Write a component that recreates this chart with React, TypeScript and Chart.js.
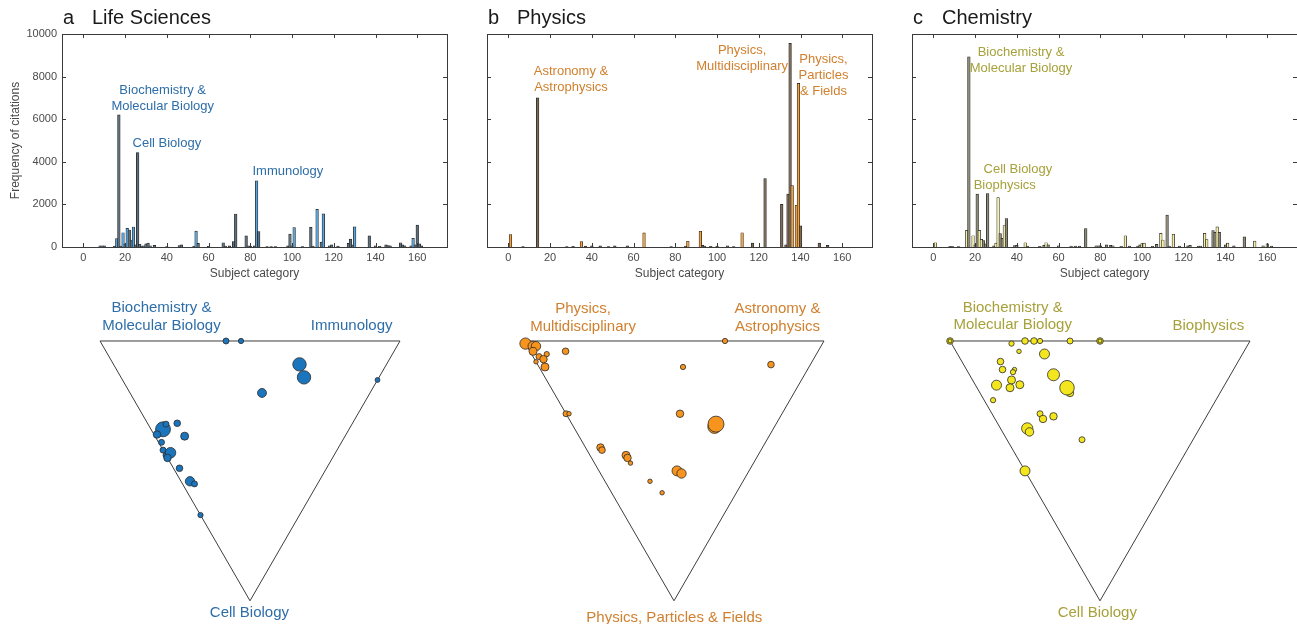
import { useEffect, useRef } from "react";
import { Chart, registerables } from "chart.js";
Chart.register(...registerables);

const FONT = '"Liberation Sans", Arial, Helvetica, sans-serif';
const SQ3 = Math.sqrt(3) / 2;

const xTickValues = [0, 20, 40, 60, 80, 100, 120, 140, 160];
const yTickValues = [0, 2000, 4000, 6000, 8000, 10000];

// [subject category, frequency of citations]
const lifeCitations: [number, number][] = [
  [8, 60], [9, 60], [10, 50], [15, 40], [16, 400], [17, 6200], [18, 40], [19, 670], [20, 150], [21, 880],
  [22, 800], [23, 330], [24, 940], [25, 100], [26, 4430], [27, 130], [28, 40], [29, 60], [30, 150], [31, 180],
  [32, 60], [34, 80], [40, 20], [46, 70], [47, 100], [53, 40], [54, 750], [55, 170], [60, 30], [67, 200],
  [68, 40], [70, 50], [72, 250], [73, 1550], [78, 520], [79, 60], [80, 30], [82, 50], [83, 3110], [84, 720],
  [88, 20], [90, 20], [92, 20], [98, 50], [99, 610], [100, 60], [101, 910], [105, 20], [109, 920], [110, 40],
  [112, 1770], [114, 230], [115, 1560], [118, 60], [119, 100], [122, 40], [127, 170], [128, 370], [129, 100],
  [130, 950], [137, 520], [140, 60], [142, 30], [145, 100], [146, 70], [147, 50], [152, 200], [153, 100],
  [154, 60], [157, 60], [158, 410], [159, 100], [160, 1030], [161, 150], [162, 50],
];
const lifeAccent = [16, 19, 21, 24, 54, 83, 101, 112, 115, 130, 158];

const physicsCitations: [number, number][] = [
  [1, 580], [7, 20], [14, 7000], [28, 20], [31, 30], [35, 260], [37, 40], [40, 50], [44, 50], [48, 20],
  [51, 50], [57, 60], [65, 660], [78, 20], [85, 40], [86, 270], [92, 740], [93, 80], [94, 40], [97, 30],
  [100, 40], [105, 60], [108, 20], [112, 670], [117, 180], [123, 3210], [131, 2000], [133, 100], [134, 2480],
  [135, 9560], [136, 2880], [138, 1960], [139, 7680], [140, 990], [149, 180], [153, 80],
];
const physicsAccent = [1, 35, 65, 86, 92, 112, 136, 138, 139];

const chemistryCitations: [number, number][] = [
  [1, 200], [8, 30], [9, 30], [12, 20], [16, 780], [17, 8930], [19, 530], [20, 100], [21, 2480], [22, 780],
  [23, 360], [24, 300], [25, 150], [26, 2510], [29, 50], [30, 180], [31, 2320], [32, 630], [33, 410], [34, 1000],
  [35, 1330], [39, 70], [40, 80], [44, 200], [45, 40], [51, 30], [53, 80], [54, 200], [55, 100], [60, 60],
  [66, 40], [68, 40], [70, 40], [73, 870], [78, 60], [79, 60], [80, 60], [83, 100], [85, 80], [86, 60],
  [90, 30], [92, 530], [94, 40], [98, 40], [99, 100], [100, 160], [101, 180], [105, 30], [107, 120], [109, 640],
  [110, 330], [112, 1500], [113, 40], [115, 600], [118, 40], [122, 50], [123, 80], [127, 40], [128, 40],
  [130, 640], [131, 350], [134, 770], [135, 690], [136, 950], [137, 690], [140, 100], [141, 180], [144, 50],
  [149, 480], [154, 280], [158, 60], [160, 150], [162, 40],
];
const chemistryAccent = [1, 16, 19, 22, 23, 30, 31, 34, 44, 54, 92, 100, 101, 109, 110, 115, 130, 131, 136, 141, 154, 160];

// ternary shares [top-left, top-right, bottom, papers]
const lifeTernary: [number, number, number, number][] = [
  [0.58, 0.42, 0.0, 9], [0.53, 0.47, 0.0, 7], [0.29, 0.62, 0.09, 45], [0.25, 0.61, 0.14, 45],
  [0.36, 0.44, 0.2, 20], [0.0, 0.85, 0.15, 6], [0.62, 0.04, 0.34, 56], [0.62, 0.06, 0.32, 9],
  [0.59, 0.1, 0.32, 11], [0.63, 0.01, 0.36, 14], [0.54, 0.1, 0.37, 16], [0.6, 0.01, 0.39, 9],
  [0.58, 0.0, 0.42, 9], [0.56, 0.0, 0.44, 9], [0.55, 0.02, 0.43, 28], [0.55, 0.0, 0.45, 14],
  [0.49, 0.02, 0.49, 11], [0.43, 0.03, 0.54, 22], [0.41, 0.04, 0.55, 9], [0.33, 0.0, 0.67, 7],
];
const physicsTernary: [number, number, number, number][] = [
  [0.99, 0.0, 0.01, 32], [0.96, 0.02, 0.02, 25], [0.95, 0.03, 0.02, 22], [0.95, 0.01, 0.04, 16],
  [0.92, 0.02, 0.06, 9], [0.89, 0.05, 0.05, 7], [0.92, 0.0, 0.08, 5], [0.9, 0.03, 0.07, 14],
  [0.88, 0.02, 0.1, 16], [0.85, 0.12, 0.04, 11], [0.33, 0.67, 0.0, 7], [0.42, 0.48, 0.1, 7],
  [0.13, 0.77, 0.09, 11], [0.72, 0.0, 0.28, 9], [0.71, 0.01, 0.28, 5], [0.34, 0.38, 0.28, 14],
  [0.2, 0.47, 0.33, 45], [0.2, 0.48, 0.32, 64], [0.54, 0.05, 0.41, 14], [0.53, 0.05, 0.42, 11],
  [0.44, 0.12, 0.44, 16], [0.43, 0.12, 0.45, 14], [0.41, 0.12, 0.47, 5], [0.24, 0.26, 0.5, 25],
  [0.22, 0.27, 0.51, 22], [0.31, 0.15, 0.54, 5], [0.25, 0.17, 0.59, 5],
];
const chemistryTernary: [number, number, number, number][] = [
  [1.0, 0.0, 0.0, 11], [1.0, 0.0, 0.0, 4], [0.79, 0.2, 0.01, 7], [0.75, 0.25, 0.0, 11],
  [0.72, 0.28, 0.0, 11], [0.7, 0.3, 0.0, 7], [0.6, 0.4, 0.0, 9], [0.5, 0.5, 0.0, 11],
  [0.5, 0.5, 0.0, 4], [0.75, 0.21, 0.04, 5], [0.66, 0.29, 0.05, 25], [0.8, 0.13, 0.08, 11],
  [0.77, 0.12, 0.11, 11], [0.73, 0.16, 0.11, 5], [0.73, 0.15, 0.12, 7], [0.59, 0.28, 0.13, 36],
  [0.76, 0.07, 0.17, 25], [0.72, 0.13, 0.15, 16], [0.69, 0.15, 0.17, 16], [0.71, 0.11, 0.18, 16],
  [0.5, 0.3, 0.2, 14], [0.52, 0.3, 0.18, 53], [0.75, 0.03, 0.23, 7], [0.56, 0.16, 0.28, 9],
  [0.54, 0.16, 0.3, 14], [0.51, 0.2, 0.29, 14], [0.58, 0.09, 0.34, 32], [0.56, 0.09, 0.35, 18],
  [0.37, 0.25, 0.38, 9], [0.5, 0.0, 0.5, 25],
];

type Note = { lines: string[]; x: number; y: number };
type Panel = {
  letter: string; name: string; left: number; showY: boolean;
  bars: [number, number][]; accent: number[];
  grey: string; accentColor: string; text: string; dot: string;
  notes: Note[]; ternary: [number, number, number, number][]; triLeft: number; triNotes: Note[];
};

const panels: Panel[] = [
  {
    letter: "a", name: "Life Sciences", left: 0, showY: true,
    bars: lifeCitations, accent: lifeAccent,
    grey: "#5f707d", accentColor: "#5aa6dc", text: "#2d6ea8", dot: "#1b75bc",
    notes: [
      { lines: ["Biochemistry &", "Molecular Biology"], x: 38, y: 7370 },
      { lines: ["Cell Biology"], x: 40, y: 4840 },
      { lines: ["Immunology"], x: 98, y: 3535 },
    ],
    ternary: lifeTernary, triLeft: 100,
    triNotes: [
      { lines: ["Biochemistry &", "Molecular Biology"], x: 0.205, y: 0.975 },
      { lines: ["Immunology"], x: 0.839, y: 0.916 },
      { lines: ["Cell Biology"], x: 0.498, y: -0.041 },
    ],
  },
  {
    letter: "b", name: "Physics", left: 425, showY: false,
    bars: physicsCitations, accent: physicsAccent,
    grey: "#7d6a57", accentColor: "#f5a140", text: "#d0802f", dot: "#f7941d",
    notes: [
      { lines: ["Astronomy &", "Astrophysics"], x: 30, y: 8230 },
      { lines: ["Physics,", "Multidisciplinary"], x: 112, y: 9216 },
      { lines: ["Physics,", "Particles", "& Fields"], x: 151, y: 8826 },
    ],
    ternary: physicsTernary, triLeft: 524,
    triNotes: [
      { lines: ["Physics,", "Multidisciplinary"], x: 0.197, y: 0.973 },
      { lines: ["Astronomy &", "Astrophysics"], x: 0.845, y: 0.973 },
      { lines: ["Physics, Particles & Fields"], x: 0.501, y: -0.058 },
    ],
  },
  {
    letter: "c", name: "Chemistry", left: 850, showY: false,
    bars: chemistryCitations, accent: chemistryAccent,
    grey: "#8e8b78", accentColor: "#f3eea8", text: "#a6a13a", dot: "#f3e61e",
    notes: [
      { lines: ["Biochemistry &", "Molecular Biology"], x: 42, y: 9140 },
      { lines: ["Cell Biology"], x: 40.5, y: 3648 },
      { lines: ["Biophysics"], x: 34.2, y: 2911 },
    ],
    ternary: chemistryTernary, triLeft: 950,
    triNotes: [
      { lines: ["Biochemistry &", "Molecular Biology"], x: 0.209, y: 0.978 },
      { lines: ["Biophysics"], x: 0.861, y: 0.916 },
      { lines: ["Cell Biology"], x: 0.491, y: -0.04 },
    ],
  },
];

function BarPanel({ panel }: { panel: Panel }) {
  const ref = useRef<HTMLCanvasElement | null>(null);
  useEffect(() => {
    const accentSet = new Set(panel.accent);
    const framePlugin = {
      id: "frame" + panel.letter,
      afterDatasetsDraw(chart: any) {
        const { ctx, chartArea, scales } = chart;
        const { left, right, top, bottom } = chartArea;
        const x = scales.x, y = scales.y;
        ctx.save();
        ctx.strokeStyle = "#3a3a3a";
        ctx.lineWidth = 1;
        ctx.strokeRect(Math.round(left) + 0.5, Math.round(top) + 0.5, Math.round(right - left), Math.round(bottom - top));
        const tl = 4;
        ctx.beginPath();
        for (const v of xTickValues) {
          const px = Math.round(x.getPixelForValue(v)) + 0.5;
          ctx.moveTo(px, bottom); ctx.lineTo(px, bottom - tl);
          ctx.moveTo(px, top); ctx.lineTo(px, top + tl);
        }
        for (const v of yTickValues) {
          const py = Math.round(y.getPixelForValue(v)) + 0.5;
          ctx.moveTo(left, py); ctx.lineTo(left + tl, py);
          ctx.moveTo(right, py); ctx.lineTo(right - tl, py);
        }
        ctx.stroke();
        // title
        ctx.fillStyle = "#1a1a1a";
        ctx.font = `20px ${FONT}`;
        ctx.textAlign = "left";
        ctx.textBaseline = "alphabetic";
        ctx.fillText(panel.letter, left + 1, 24);
        ctx.fillText(panel.name, left + 30, 24);
        // axis titles
        ctx.fillStyle = "#4a4a4a";
        ctx.font = `12px ${FONT}`;
        ctx.textAlign = "center";
        ctx.textBaseline = "middle";
        ctx.fillText("Subject category", (left + right) / 2, 274);
        if (panel.showY) {
          ctx.save();
          ctx.translate(16, (top + bottom) / 2);
          ctx.rotate(-Math.PI / 2);
          ctx.fillText("Frequency of citations", 0, 0);
          ctx.restore();
        }
        // annotations
        ctx.fillStyle = panel.text;
        ctx.font = `13px ${FONT}`;
        for (const n of panel.notes) {
          const px = x.getPixelForValue(n.x);
          const py = y.getPixelForValue(n.y);
          n.lines.forEach((t, i) => ctx.fillText(t, px, py + i * 16));
        }
        ctx.restore();
      },
    };
    const chart = new Chart(ref.current as HTMLCanvasElement, {
      type: "bar",
      data: {
        datasets: [
          {
            data: panel.bars.map(([c, v]) => ({ x: c, y: v })) as any,
            backgroundColor: panel.bars.map(([c]) => (accentSet.has(c) ? panel.accentColor : panel.grey)),
            borderColor: "#1e1e1e",
            borderWidth: 0.7,
            barThickness: 2.6,
          },
        ],
      },
      options: {
        responsive: false,
        animation: false,
        devicePixelRatio: 1,
        events: [],
        layout: { autoPadding: false, padding: { top: 34, right: 3, left: 0, bottom: 0 } },
        scales: {
          x: {
            type: "linear", min: 0, max: 164,
            grid: { display: false, drawTicks: false },
            border: { display: false },
            afterBuildTicks: (s: any) => { s.ticks = xTickValues.map((v) => ({ value: v })); },
            afterFit: (s: any) => { s.height = 43; },
            ticks: { font: { family: FONT, size: 11 }, color: "#4a4a4a", padding: 4, maxRotation: 0, autoSkip: false, callback: (v: any) => String(v) },
          },
          y: {
            type: "linear", min: 0, max: 10000,
            grid: { display: false, drawTicks: false },
            border: { display: false },
            afterBuildTicks: (s: any) => { s.ticks = yTickValues.map((v) => ({ value: v })); },
            afterFit: (s: any) => { s.width = 62; },
            ticks: { display: panel.showY, font: { family: FONT, size: 11 }, color: "#4a4a4a", padding: 5, callback: (v: any) => String(v) },
          },
        },
        plugins: { legend: { display: false }, tooltip: { enabled: false }, title: { display: false } },
      } as any,
      plugins: [framePlugin],
    });
    return () => chart.destroy();
  }, [panel]);
  return (
    <canvas ref={ref} width={450} height={290}
      style={{ position: "absolute", left: panel.left, top: 0, width: 450, height: 290 }} />
  );
}

function TernaryPanel({ panel }: { panel: Panel }) {
  const ref = useRef<HTMLCanvasElement | null>(null);
  useEffect(() => {
    const pts = panel.ternary.map(([a, b, c, n]) => {
      const s = a + b + c;
      const bb = b / s, cc = c / s;
      return { x: bb + cc / 2, y: (1 - cc) * SQ3, r: Math.sqrt(n) };
    });
    const labelPlugin = {
      id: "tri" + panel.letter,
      afterDatasetsDraw(chart: any) {
        const { ctx, scales } = chart;
        ctx.save();
        ctx.fillStyle = panel.text;
        ctx.font = `15px ${FONT}`;
        ctx.textAlign = "center";
        ctx.textBaseline = "middle";
        for (const n of panel.triNotes) {
          const px = scales.x.getPixelForValue(n.x);
          const py = scales.y.getPixelForValue(n.y);
          n.lines.forEach((t, i) => ctx.fillText(t, px, py + i * 17.5));
        }
        ctx.restore();
      },
    };
    const chart = new Chart(ref.current as HTMLCanvasElement, {
      type: "bubble",
      data: {
        datasets: [
          {
            type: "line",
            data: [{ x: 0, y: SQ3 }, { x: 1, y: SQ3 }, { x: 0.5, y: 0 }, { x: 0, y: SQ3 }],
            borderColor: "#3d3d3d", borderWidth: 1, pointRadius: 0, fill: false, tension: 0,
            borderJoinStyle: "miter", order: 2,
          } as any,
          {
            type: "bubble",
            data: pts,
            backgroundColor: panel.dot, borderColor: "#2b2b2b", borderWidth: 0.8, order: 1, clip: false,
          } as any,
        ],
      },
      options: {
        responsive: false,
        animation: false,
        devicePixelRatio: 1,
        events: [],
        layout: { autoPadding: false, padding: 0 },
        scales: {
          x: { type: "linear", display: false, min: -0.2, max: 1.2 },
          y: { type: "linear", display: false, min: 1.036 - 334 / 300, max: 1.036 },
        },
        plugins: { legend: { display: false }, tooltip: { enabled: false } },
      } as any,
      plugins: [labelPlugin],
    });
    return () => chart.destroy();
  }, [panel]);
  return (
    <canvas ref={ref} width={420} height={334}
      style={{ position: "absolute", left: panel.triLeft - 60, top: 290, width: 420, height: 334 }} />
  );
}

export default function App() {
  return (
    <div style={{ position: "absolute", left: 0, top: 0, width: 1297, height: 624, overflow: "hidden", background: "#fff" }}>
      {panels.map((p) => <BarPanel key={"b" + p.letter} panel={p} />)}
      {panels.map((p) => <TernaryPanel key={"t" + p.letter} panel={p} />)}
    </div>
  );
}
